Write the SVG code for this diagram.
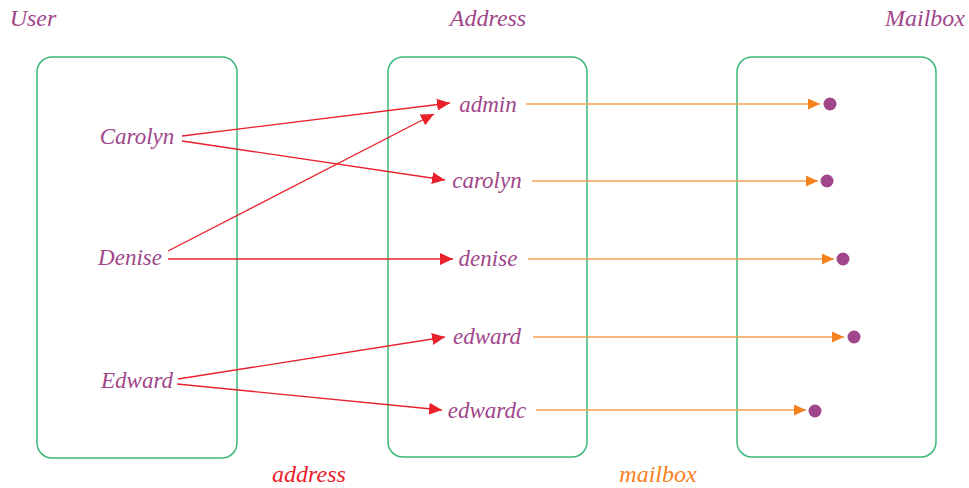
<svg xmlns="http://www.w3.org/2000/svg" width="969" height="488" viewBox="0 0 969 488">
<style>
.box{fill:none;stroke:#3cb878;stroke-width:1.5}
.t{font-family:"Liberation Serif",serif;font-style:italic;font-size:23px;fill:#a0468a;text-anchor:middle;dominant-baseline:central}
.h{font-size:24px}
.r{fill:none;stroke:#e8212b;stroke-width:1.3;marker-end:url(#ar)}
.o{fill:none;stroke:#f7a055;stroke-width:1.6;marker-end:url(#ao)}
.dot{fill:#a0468a}
</style>
<defs>
<marker id="ar" markerUnits="userSpaceOnUse" markerWidth="14" markerHeight="12" refX="13" refY="6" orient="auto"><path d="M0,0 L13,6 L0,12 z" fill="#e8212b"/></marker>
<marker id="ao" markerUnits="userSpaceOnUse" markerWidth="14" markerHeight="12" refX="12" refY="5.5" orient="auto"><path d="M0,0 L12,5.5 L0,11 z" fill="#f5821f"/></marker>
</defs>
<g id="titles">
<text class="t h" x="33" y="18">User</text>
<text class="t h" x="488" y="18">Address</text>
<text class="t h" x="925" y="18">Mailbox</text>
</g>
<g id="user-box"><rect class="box" x="37" y="57" width="200" height="401" rx="15"/></g>
<g id="address-box"><rect class="box" x="388" y="57" width="199" height="400" rx="15"/></g>
<g id="mailbox-box"><rect class="box" x="737" y="57" width="199" height="400" rx="15"/></g>
<g id="connectors">
<path class="r" d="M182,136 L450,103"/>
<path class="r" d="M182,141 L445,180"/>
<path class="r" d="M168,251 L434,114"/>
<path class="r" d="M168,259 L453,259"/>
<path class="r" d="M178,379 L445,337"/>
<path class="r" d="M177,384 L442,410"/>
<path class="o" d="M526,104 L820,104"/>
<path class="o" d="M532,181 L818,181"/>
<path class="o" d="M528,259 L834,259"/>
<path class="o" d="M533,337 L844,337"/>
<path class="o" d="M536,410 L806,410"/>
</g>
<g id="user-carolyn"><text class="t" x="137" y="136">Carolyn</text></g>
<g id="user-denise"><text class="t" x="130" y="257">Denise</text></g>
<g id="user-edward"><text class="t" x="137" y="380">Edward</text></g>
<g id="addr-admin"><text class="t" x="488" y="104">admin</text></g>
<g id="addr-carolyn"><text class="t" x="487" y="180">carolyn</text></g>
<g id="addr-denise"><text class="t" x="488" y="258">denise</text></g>
<g id="addr-edward"><text class="t" x="487" y="336">edward</text></g>
<g id="addr-edwardc"><text class="t" x="487" y="410">edwardc</text></g>
<g id="mb1"><circle class="dot" cx="830" cy="104" r="6.5"/></g>
<g id="mb2"><circle class="dot" cx="827" cy="181" r="6.5"/></g>
<g id="mb3"><circle class="dot" cx="843" cy="259" r="6.5"/></g>
<g id="mb4"><circle class="dot" cx="854" cy="337" r="6.5"/></g>
<g id="mb5"><circle class="dot" cx="815" cy="411" r="6.5"/></g>
<g id="labels">
<text class="t h" x="309" y="474" style="fill:#e8212b">address</text>
<text class="t h" x="658" y="474" style="fill:#f5821f">mailbox</text>
</g>
</svg>
